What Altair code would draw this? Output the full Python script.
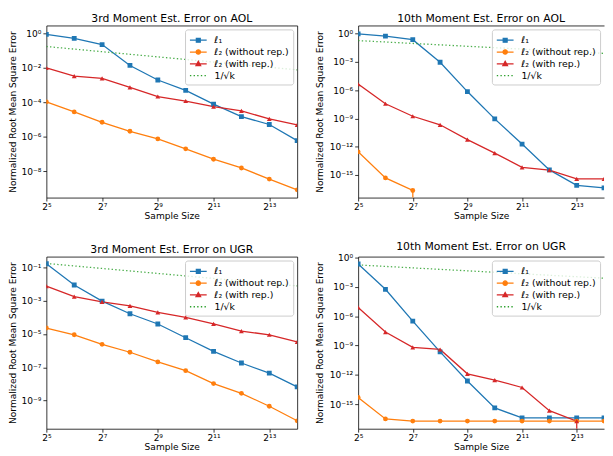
import altair as alt
import pandas as pd

# ---------------- data ----------------
sample_sizes = [32, 64, 128, 256, 512, 1024, 2048, 4096, 8192, 16384]
inv_sqrt_k = [0.1768, 0.1250, 0.0884, 0.0625, 0.0442, 0.0313, 0.0221, 0.0156, 0.0110, 0.0078]

series_names = ["ℓ₁", "ℓ₂ (without rep.)", "ℓ₂ (with rep.)", "1/√k"]
series_colors = ["#1f77b4", "#ff7f0e", "#d62728", "#2ca02c"]
series_markers = ["square", "circle", "triangle-up", "none"]

titles = [
    "3rd Moment Est. Error on AOL",
    "10th Moment Est. Error on AOL",
    "3rd Moment Est. Error on UGR",
    "10th Moment Est. Error on UGR",
]

# 3rd moment, AOL
aol3_l1 = [0.9, 0.52, 0.23, 0.014, 2.0e-3, 5.0e-4, 8.0e-5, 1.5e-5, 5.2e-6, 6.0e-7]
aol3_wo = [1.07e-4, 2.8e-5, 7.0e-6, 2.1e-6, 7.6e-7, 2.0e-7, 5.0e-8, 1.55e-8, 3.5e-9, 8.3e-10]
aol3_w = [1.0e-2, 3.4e-3, 2.5e-3, 7.5e-4, 2.2e-4, 1.2e-4, 5.6e-5, 3.2e-5, 1.1e-5, 5.0e-6]

# 10th moment, AOL (0 = exact, off the log axis)
aol10_l1 = [0.9, 0.53, 0.22, 9.0e-4, 7.0e-7, 9.0e-10, 1.9e-12, 3.5e-15, 8.0e-17, 4.3e-17]
aol10_wo = [2.9e-13, 4.9e-16, 2.3e-17, 0, 0, 0, 0, 0, 0, 0]
aol10_w = [4.3e-6, 3.6e-8, 1.7e-9, 2.1e-10, 5.7e-12, 2.1e-13, 6.6e-15, 3.3e-15, 3.9e-16, 3.9e-16]

# 3rd moment, UGR
ugr3_l1 = [0.17, 8.9e-3, 9.5e-4, 1.66e-4, 4.0e-5, 6.0e-6, 9.0e-7, 1.8e-7, 4.4e-8, 6.6e-9]
ugr3_wo = [2.3e-5, 9.0e-6, 2.4e-6, 8.0e-7, 2.1e-7, 6.2e-8, 1.04e-8, 2.7e-9, 4.5e-10, 6.0e-11]
ugr3_w = [7.7e-3, 1.8e-3, 8.7e-4, 5.0e-4, 2.0e-4, 1.0e-4, 4.1e-5, 1.5e-5, 9.0e-6, 3.4e-6]

# 10th moment, UGR
ugr10_l1 = [0.22, 5.7e-4, 3.2e-7, 2.3e-10, 2.4e-13, 4.3e-16, 4.0e-17, 4.0e-17, 4.0e-17, 4.0e-17]
ugr10_wo = [5.0e-15, 3.2e-17, 1.9e-17, 1.9e-17, 1.9e-17, 1.9e-17, 1.9e-17, 1.9e-17, 1.9e-17, 1.9e-17]
ugr10_w = [8.0e-6, 2.4e-8, 6.7e-10, 4.0e-10, 1.3e-12, 3.0e-13, 5.2e-14, 2.2e-16, 1.9e-17, 0]

# tick labels
x_tick_values = [32, 128, 512, 2048, 8192]
x_tick_labels = ["2⁵", "2⁷", "2⁹", "2¹¹", "2¹³"]

aol3_ticks = [1, 1e-2, 1e-4, 1e-6, 1e-8]
aol3_tick_labels = ["10⁰", "10⁻²", "10⁻⁴", "10⁻⁶", "10⁻⁸"]
m10_ticks = [1, 1e-3, 1e-6, 1e-9, 1e-12, 1e-15]
m10_tick_labels = ["10⁰", "10⁻³", "10⁻⁶", "10⁻⁹", "10⁻¹²", "10⁻¹⁵"]
ugr3_ticks = [1e-1, 1e-3, 1e-5, 1e-7, 1e-9]
ugr3_tick_labels = ["10⁻¹", "10⁻³", "10⁻⁵", "10⁻⁷", "10⁻⁹"]

# y-axis limits
aol3_ylim = [2.95e-10, 2.95]
aol10_ylim = [4.07e-18, 7.08]
ugr3_ylim = [2.0e-11, 0.457]
ugr10_ylim = [3.16e-18, 1.26]
x_lim = [32, 16384]

# legend glyphs (line + marker); drawn at symbolSize 144 (12px box), line spans ~17px
legend_shapes = [
    "M-1.42,0L1.42,0M-0.33,-0.33L0.33,-0.33L0.33,0.33L-0.33,0.33Z",
    "M-1.42,0L1.42,0M-0.37,0A0.37,0.37,0,1,1,0.37,0A0.37,0.37,0,1,1,-0.37,0Z",
    "M-1.42,0L1.42,0M0,-0.42L0.39,0.29L-0.39,0.29Z",
    "M-1.42,0L-1.19,0M-0.80,0L-0.57,0M-0.19,0L0.04,0M0.43,0L0.66,0M1.05,0L1.28,0",
]

W_LEFT, W_RIGHT, H = 255, 250, 175
FS = 9.2


def label_expr(values, labels):
    expr = "''"
    for v, l in reversed(list(zip(values, labels))):
        expr = f"datum.value == {v!r} ? '{l}' : {expr}"
    return expr


def panel(title, l1, wo, w, yticks, ylabels, ylim, width, title_x, right_frame):
    rows = []
    for name, color, marker, vals in zip(series_names, series_colors, series_markers,
                                         [l1, wo, w, inv_sqrt_k]):
        for kk, v in zip(sample_sizes, vals):
            rows.append(dict(k=kk, value=(v if v > 0 else 1e-300), raw=v, series=name,
                             color=color, marker=marker,
                             style=("dotted" if marker == "none" else "solid")))
    df = pd.DataFrame(rows)
    xs = alt.Scale(type="log", base=2, domain=x_lim, nice=False)
    ys = alt.Scale(type="log", domain=ylim, nice=False)

    x_axis = alt.Axis(values=x_tick_values, labelExpr=label_expr(x_tick_values, x_tick_labels),
                      title="Sample Size", titleY=14.5, titleFontSize=FS, titleFontWeight="normal",
                      titleColor="black", labelFontSize=FS, labelColor="black", tickSize=3.5,
                      tickColor="black", tickWidth=0.8, domainColor="black", domainWidth=0.8,
                      labelPadding=1.5, grid=False, labelFlush=False, labelOverlap=False)
    y_axis = alt.Axis(values=yticks, labelExpr=label_expr(yticks, ylabels),
                      title="Normalized Root Mean Square Error", titleX=title_x,
                      titleFontSize=FS, titleFontWeight="normal", titleColor="black",
                      labelFontSize=FS, labelColor="black", tickSize=3.5, tickColor="black",
                      tickWidth=0.8, domainColor="black", domainWidth=0.8, labelPadding=2,
                      grid=False, labelOverlap=False)
    top_axis = alt.Axis(orient="top", labels=False, ticks=False, title=None, grid=False,
                        domainColor="black", domainWidth=0.8)
    right_axis = alt.Axis(orient="right", labels=False, ticks=False, title=None, grid=False,
                          domainColor="black", domainWidth=0.8)

    base = alt.Chart(df)
    lines = base.transform_filter("datum.style == 'solid'").mark_line(
        clip=True, strokeWidth=1.3).encode(
        x=alt.X("k:Q", scale=xs, axis=x_axis),
        y=alt.Y("value:Q", scale=ys, axis=y_axis),
        color=alt.Color("color:N", scale=None),
        detail="series:N",
    )
    dotted = base.transform_filter("datum.style == 'dotted'").mark_line(
        clip=True, strokeWidth=1.3, strokeDash=[1.4, 2.3], opacity=0.85).encode(
        x=alt.X("k:Q", scale=xs, axis=None),
        y=alt.Y("value:Q", scale=ys, axis=None),
        color=alt.Color("color:N", scale=None),
    )
    points = base.transform_filter("datum.style == 'solid' && datum.raw > 0").mark_point(
        filled=True, size=24, opacity=1, clip=True).encode(
        x=alt.X("k:Q", scale=xs, axis=None),
        y=alt.Y("value:Q", scale=ys, axis=None),
        color=alt.Color("color:N", scale=None),
        shape=alt.Shape("marker:N", scale=None),
    )
    leg = alt.Legend(orient="top-right", offset=4, title=None, fillColor="rgba(255,255,255,0.8)",
                     strokeColor="#cccccc", cornerRadius=2.5, padding=4, symbolSize=144,
                     symbolStrokeWidth=1.3, labelFontSize=9.5, labelColor="black",
                     rowPadding=-0.5, symbolOffset=2.5, labelOffset=9.5, symbolOpacity=1)
    legend_layer = base.transform_filter("false").mark_point(filled=True, opacity=1).encode(
        fill=alt.Fill("series:N", scale=alt.Scale(domain=series_names, range=series_colors), legend=leg),
        stroke=alt.Stroke("series:N", scale=alt.Scale(domain=series_names, range=series_colors), legend=leg),
        shape=alt.Shape("series:N", scale=alt.Scale(domain=series_names, range=legend_shapes), legend=leg),
    )
    frame = base.transform_filter("false").mark_line(opacity=0).encode(
        x=alt.X("k:Q", scale=xs, axis=top_axis),
        y=alt.Y("value:Q", scale=ys, axis=(right_axis if right_frame else None)),
    )
    return alt.layer(lines, dotted, points, legend_layer, frame).resolve_axis(
        x="independent", y="independent").properties(
        width=width, height=H,
        title=alt.TitleParams(text=title, fontSize=11, fontWeight="normal", color="black", offset=2),
    )


p1 = panel(titles[0], aol3_l1, aol3_wo, aol3_w, aol3_ticks, aol3_tick_labels, aol3_ylim, W_LEFT, -29.4, True)
p2 = panel(titles[1], aol10_l1, aol10_wo, aol10_w, m10_ticks, m10_tick_labels, aol10_ylim, W_RIGHT, -34.5, False)
p3 = panel(titles[2], ugr3_l1, ugr3_wo, ugr3_w, ugr3_ticks, ugr3_tick_labels, ugr3_ylim, W_LEFT, -29.4, True)
p4 = panel(titles[3], ugr10_l1, ugr10_wo, ugr10_w, m10_ticks, m10_tick_labels, ugr10_ylim, W_RIGHT, -34.5, False)

indep = dict(fill="independent", stroke="independent", shape="independent")
row1 = alt.hconcat(p1, p2, spacing=16).resolve_scale(**indep).resolve_legend(**indep)
row2 = alt.hconcat(p3, p4, spacing=16).resolve_scale(**indep).resolve_legend(**indep)
chart = alt.vconcat(row1, row2, spacing=18).resolve_scale(**indep).resolve_legend(**indep).properties(
    padding=0
).configure(font="DejaVu Sans").configure_view(stroke="transparent")

chart.save("out.html", embed_options={"renderer": "svg", "actions": False})
